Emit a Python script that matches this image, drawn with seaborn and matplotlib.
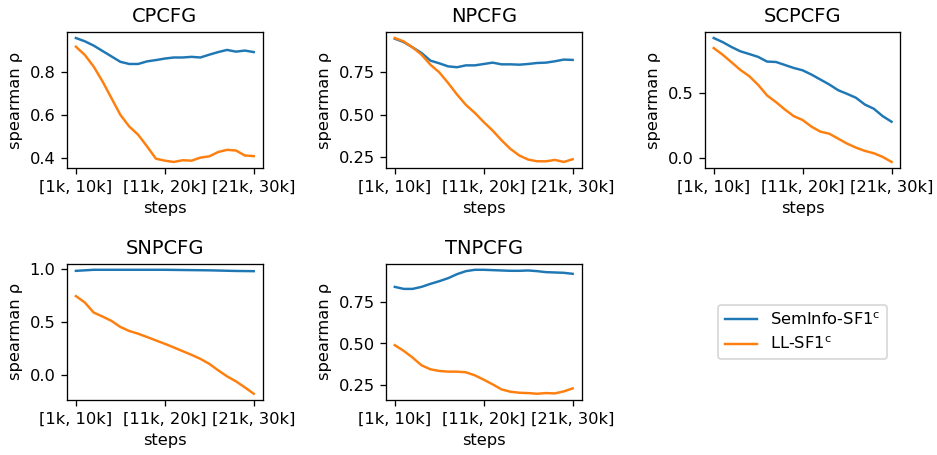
import pandas as pd
import numpy as np
import matplotlib
matplotlib.use('Agg')
import matplotlib.pyplot as plt
import seaborn as sns

# 21 sliding windows: [1k,10k], [2k,11k], ... [21k,30k]
steps = list(range(21))
tick_pos = [0, 10, 20]
tick_labels = ['[1k, 10k]', '[11k, 20k]', '[21k, 30k]']

models = ['CPCFG', 'NPCFG', 'SCPCFG', 'SNPCFG', 'TNPCFG']

seminfo = {
    'CPCFG': [0.955, 0.94, 0.92, 0.895, 0.87, 0.845, 0.835, 0.835, 0.847, 0.853, 0.86,
              0.865, 0.865, 0.868, 0.865, 0.878, 0.89, 0.9, 0.892, 0.897, 0.89],
    'NPCFG': [0.948, 0.928, 0.897, 0.864, 0.819, 0.803, 0.785, 0.78, 0.791, 0.791, 0.799,
              0.807, 0.797, 0.797, 0.795, 0.799, 0.805, 0.807, 0.815, 0.825, 0.823],
    'SCPCFG': [0.921, 0.89, 0.852, 0.819, 0.798, 0.776, 0.74, 0.737, 0.714, 0.691, 0.673,
               0.64, 0.602, 0.564, 0.52, 0.492, 0.462, 0.41, 0.378, 0.321, 0.278],
    'SNPCFG': [0.985, 0.99, 0.995, 0.995, 0.995, 0.995, 0.995, 0.995, 0.995, 0.995, 0.995,
               0.994, 0.993, 0.992, 0.991, 0.99, 0.988, 0.986, 0.984, 0.983, 0.982],
    'TNPCFG': [0.838, 0.826, 0.826, 0.838, 0.856, 0.872, 0.89, 0.914, 0.932, 0.94, 0.94,
               0.938, 0.936, 0.934, 0.934, 0.936, 0.932, 0.926, 0.924, 0.922, 0.916],
}

ll = {
    'CPCFG': [0.915, 0.877, 0.823, 0.754, 0.677, 0.6, 0.546, 0.508, 0.454, 0.397, 0.388,
              0.382, 0.39, 0.388, 0.402, 0.408, 0.428, 0.438, 0.435, 0.412, 0.409],
    'NPCFG': [0.952, 0.932, 0.897, 0.854, 0.795, 0.75, 0.687, 0.619, 0.558, 0.511, 0.457,
              0.407, 0.35, 0.299, 0.26, 0.236, 0.226, 0.226, 0.234, 0.222, 0.238],
    'SCPCFG': [0.844, 0.793, 0.735, 0.676, 0.628, 0.561, 0.48, 0.429, 0.372, 0.321, 0.291,
               0.24, 0.202, 0.186, 0.148, 0.11, 0.079, 0.054, 0.036, 0.008, -0.031],
    'SNPCFG': [0.747, 0.687, 0.592, 0.554, 0.513, 0.456, 0.418, 0.392, 0.361, 0.329, 0.297,
               0.263, 0.228, 0.193, 0.155, 0.108, 0.047, -0.01, -0.057, -0.114, -0.174],
    'TNPCFG': [0.49, 0.456, 0.416, 0.37, 0.346, 0.336, 0.332, 0.332, 0.328, 0.31, 0.284,
               0.256, 0.226, 0.212, 0.206, 0.204, 0.2, 0.204, 0.202, 0.214, 0.232],
}

metric_names = [r'SemInfo-SF1$^\mathrm{c}$', r'LL-SF1$^\mathrm{c}$']

rows = []
for m in models:
    for s, a, b in zip(steps, seminfo[m], ll[m]):
        rows.append((m, s, metric_names[0], a))
        rows.append((m, s, metric_names[1], b))
df = pd.DataFrame(rows, columns=['model', 'step', 'metric', 'rho'])

fig, axes = plt.subplots(2, 3, figsize=(8.0, 3.885), dpi=117.125)
fig.subplots_adjust(left=0.0715, right=0.961, top=0.93, bottom=0.121,
                    wspace=0.63, hspace=0.7)

for ax, m in zip(axes.flat, models):
    sns.lineplot(data=df[df.model == m], x='step', y='rho', hue='metric',
                 hue_order=metric_names, palette=['#1f77b4', '#ff7f0e'],
                 ax=ax, legend=False)
    ax.set_title(m)
    ax.set_xticks(tick_pos)
    ax.set_xticklabels(tick_labels)
    ax.set_xlabel('steps')
    ax.set_ylabel('spearman ρ')

handles = [plt.Line2D([], [], color=c) for c in ['#1f77b4', '#ff7f0e']]
axes[1, 2].axis('off')
axes[1, 2].legend(handles, metric_names, loc='center')

fig.savefig('out.png')
